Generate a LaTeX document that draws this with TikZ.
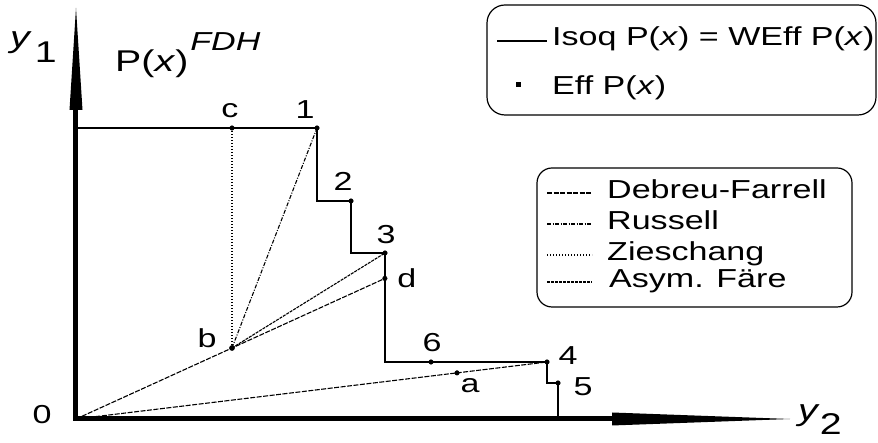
\documentclass[tikz,border=0pt]{standalone}
\usepackage{fontspec}
\setmainfont{Liberation Sans}[FakeStretch=1.31]
\usetikzlibrary{calc,positioning}

\tikzset{
  isoq/.style={line width=1.4pt},
  debfar/.style={line width=1.1pt, dash pattern=on 5pt off 1.5pt},
  russ/.style={line width=1.1pt, dash pattern=on 4pt off 1.5pt on 1pt off 1.5pt},
  ziesch/.style={line width=1.1pt, dash pattern=on 1pt off 2pt},
  asyfar/.style={line width=1.1pt, dash pattern=on 3pt off 1pt},
  lbl/.style={inner sep=0pt},
  legbox/.style={line width=1.2pt, rounded corners=18pt},
}

\begin{document}
\begin{tikzpicture}[x=1pt, y=1pt, font=\fontsize{26}{30}\selectfont]
\useasboundingbox (-76,-24) rectangle (802,419);

% axes with long spikes
\coordinate (o) at (0,0);
\coordinate (ybase) at (0,309);
\coordinate (ytop) at (0,411);
\coordinate (xbase) at (536,0);
\coordinate (xtop) at (714,0);
\draw[line width=5pt, line join=miter] (ybase) -- (o) -- (xbase);
\fill ($(ybase)+(-6.5,0)$) -- (ytop) -- ($(ybase)+(6.5,0)$) -- cycle;
\fill ($(xbase)+(0,-6.5)$) -- (xtop) -- ($(xbase)+(0,6.5)$) -- cycle;

\node[lbl, anchor=base west, font=\fontsize{30}{34}\selectfont] (ylab) at (-66,371) {\textit{y}\raisebox{-15pt}{\hspace{3pt}1}};
\node[lbl, anchor=base west, font=\fontsize{30}{34}\selectfont] (xlab) at (722,-2) {\textit{y}\raisebox{-14pt}{2}};
\node[lbl] (lo) at ($(o)+(-34,4)$) {0};
\node[lbl, anchor=base west, font=\fontsize{30}{34}\selectfont] (title) at (39,347) {P(\textit{x})\hspace{2pt}\raisebox{21pt}{\fontsize{26}{30}\selectfont\textit{FDH}}};

% observations
\coordinate (p1) at (241,291);
\coordinate (p2) at (275,218);
\coordinate (p3) at (309,166);
\coordinate (p4) at (471,57);
\coordinate (p5) at (482,36);
\coordinate (p6) at (355,57);
\coordinate (b) at (156,71);
\coordinate (c) at (156,291);
\coordinate (d) at ($(o)!1.98!(b)$);
\coordinate (a) at ($(o)!0.809!(p4)$);

% isoquant staircase
\draw[isoq] (o |- c) -- (c) -- (p1) |- (p2) |- (p3) |- (p6) -- (p4) |- (p5) -- (p5 |- o);

% efficiency measures
\draw[debfar] (o) -- (b) -- (d);
\draw[debfar] (o) -- (a) -- (p4);
\draw[russ] (b) -- (p1);
\draw[ziesch] (b) -- (c);
\draw[asyfar] (b) -- (p3);

\filldraw (p1) circle [radius=2.3pt];
\filldraw (p2) circle [radius=2.3pt];
\filldraw (p3) circle [radius=2.3pt];
\filldraw (p4) circle [radius=2.3pt];
\filldraw (p5) circle [radius=2.3pt];
\filldraw (p6) circle [radius=2.3pt];
\filldraw (a) circle [radius=2.3pt];
\filldraw (b) circle [radius=2.6pt];
\filldraw (c) circle [radius=2.3pt];
\filldraw (d) circle [radius=2.3pt];

\node[lbl] (lp1) at ($(p1)+(-12,18)$) {1};
\node[lbl] (lp2) at ($(p2)+(-8,20)$) {2};
\node[lbl] (lp3) at ($(p3)+(1,18)$) {3};
\node[lbl] (lp4) at ($(p4)+(21,6)$) {4};
\node[lbl] (lp5) at ($(p5)+(25,-4)$) {5};
\node[lbl] (lp6) at ($(p6)+(1,19)$) {6};
\node[lbl] (la) at ($(a)+(13,-13)$) {a};
\node[lbl] (lb) at ($(b)+(-25,10)$) {b};
\node[lbl] (lc) at ($(c)+(-2,17)$) {c};
\node[lbl] (ld) at ($(d)+(22,0)$) {d};

% legend: isoquant and efficient subset
\draw[legbox] (411,304) rectangle (800,414);
\coordinate (k1) at (421,378);
\coordinate (k1e) at (471,378);
\draw[isoq] (k1) -- (k1e);
\node[lbl, anchor=base west] (tk1) at (476,373) {Isoq P(\textit{x}) = WEff P(\textit{x})};
\node[fill, inner sep=0pt, minimum size=5pt] (k2) at (442,334) {};
\node[lbl, anchor=base west] (tk2) at (476,324) {Eff P(\textit{x})};

% legend: measures
\draw[legbox, rounded corners=15pt] (461,112) rectangle (776,251);
\coordinate (m1) at (471,226);
\coordinate (m1e) at (516,226);
\draw[debfar] (m1) -- (m1e);
\node[lbl, anchor=base west] (tm1) at (531,220) {Debreu-Farrell};
\coordinate (m2) at (471,195);
\coordinate (m2e) at (516,195);
\draw[russ] (m2) -- (m2e);
\node[lbl, anchor=base west] (tm2) at (531,189) {Russell};
\coordinate (m3) at (471,164);
\coordinate (m3e) at (516,164);
\draw[ziesch] (m3) -- (m3e);
\node[lbl, anchor=base west] (tm3) at (531,158) {Zieschang};
\coordinate (m4) at (471,137);
\coordinate (m4e) at (516,137);
\draw[asyfar] (m4) -- (m4e);
\node[lbl, anchor=base west] (tm4) at (533,131) {Asym. Färe};
\end{tikzpicture}
\end{document}
